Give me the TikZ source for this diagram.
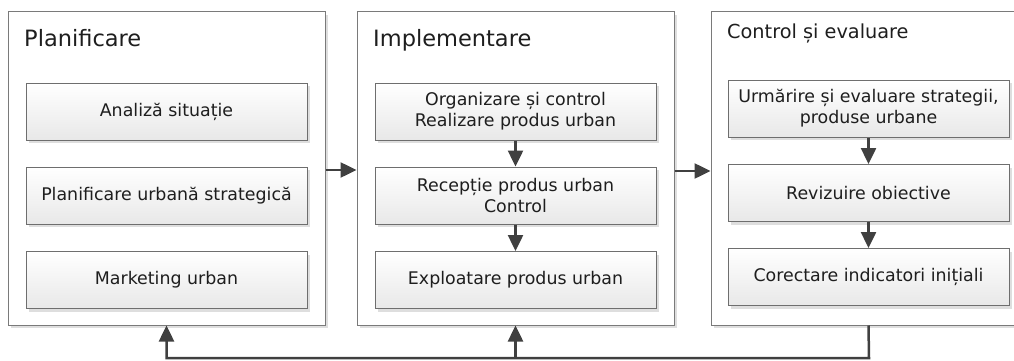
\documentclass[tikz,border=0pt]{standalone}
\usepackage{fontspec}
\setmainfont{DejaVu Sans}
\usetikzlibrary{arrows.meta,shadows}
\definecolor{linegray}{HTML}{404040}
\definecolor{framegray}{HTML}{7A7A7A}
\definecolor{boxgray}{HTML}{6E6E6E}
\definecolor{txt}{HTML}{1E1E1E}
\tikzset{
  panel/.style={draw=framegray, line width=1pt, fill=white, minimum width=317pt, minimum height=313pt, inner sep=0pt,
    drop shadow={shadow xshift=3pt, shadow yshift=-3pt, fill=black!13, opacity=1}},
  stage/.style={draw=boxgray, line width=1pt, top color=white, bottom color=black!9, minimum width=281pt, minimum height=57pt,
    inner sep=0pt, align=center, text=txt, font=\fontsize{17.4}{21}\selectfont,
    drop shadow={shadow xshift=3pt, shadow yshift=-3pt, fill=black!13, opacity=1}},
  bigtitle/.style={anchor=base west, inner sep=0pt, text=txt, font=\fontsize{22.5}{26}\selectfont},
  smalltitle/.style={anchor=base west, inner sep=0pt, text=txt, font=\fontsize{19.3}{23}\selectfont},
  arr/.style={draw=linegray, line width=2.5pt, -{Triangle[length=16pt,width=15pt]}}
}
\begin{document}
\begin{tikzpicture}[x=1pt,y=-1pt]
\useasboundingbox (0,0) rectangle (1014,361);
\clip (0,0) rectangle (1014,361);
% three phase panels
\node[panel] (P1) at (166.5,168.5) {};
\node[panel] (P2) at (515.5,168.5) {};
\node[panel, minimum width=330pt] (P3) at (876,168.5) {};
\node[bigtitle] (T1) at (24,47) {Planificare};
\node[bigtitle] (T2) at (373,47) {Implementare};
\node[smalltitle] (T3) at (727,39) {Control și evaluare};
% planning steps
\node[stage] (A1) at (166.5,111.5) {Analiză situație};
\node[stage] (A2) at (166.5,195.5) {Planificare urbană strategică};
\node[stage] (A3) at (166.5,280) {Marketing urban};
% implementation steps
\node[stage] (B1) at (515.5,111.5) {Organizare și control\\Realizare produs urban};
\node[stage] (B2) at (515.5,195.5) {Recepție produs urban\\Control};
\node[stage] (B3) at (515.5,280) {Exploatare produs urban};
% control and evaluation steps
\node[stage] (C1) at (868.5,108.5) {Urmărire și evaluare strategii,\\produse urbane};
\node[stage] (C2) at (868.5,193) {Revizuire obiective};
\node[stage] (C3) at (868.5,277) {Corectare indicatori inițiali};
% flow inside panels
\draw[arr] (B1) -- (B2);
\draw[arr] (B2) -- (B3);
\draw[arr] (C1) -- (C2);
\draw[arr] (C2) -- (C3);
% flow between panels
\draw[arr] ([yshift=-1.5pt]P1.east) -- ([yshift=-1.5pt]P2.west);
\draw[arr] ([yshift=-2.5pt]P2.east) -- ([yshift=-2.5pt]P3.west);
% feedback loop
\coordinate (fb) at (869,358);
\draw[arr] (C3.south |- P3.south) -- (fb) -| (P1.south);
\draw[arr] (P2.south |- fb) -- (P2.south);
\end{tikzpicture}
\end{document}
